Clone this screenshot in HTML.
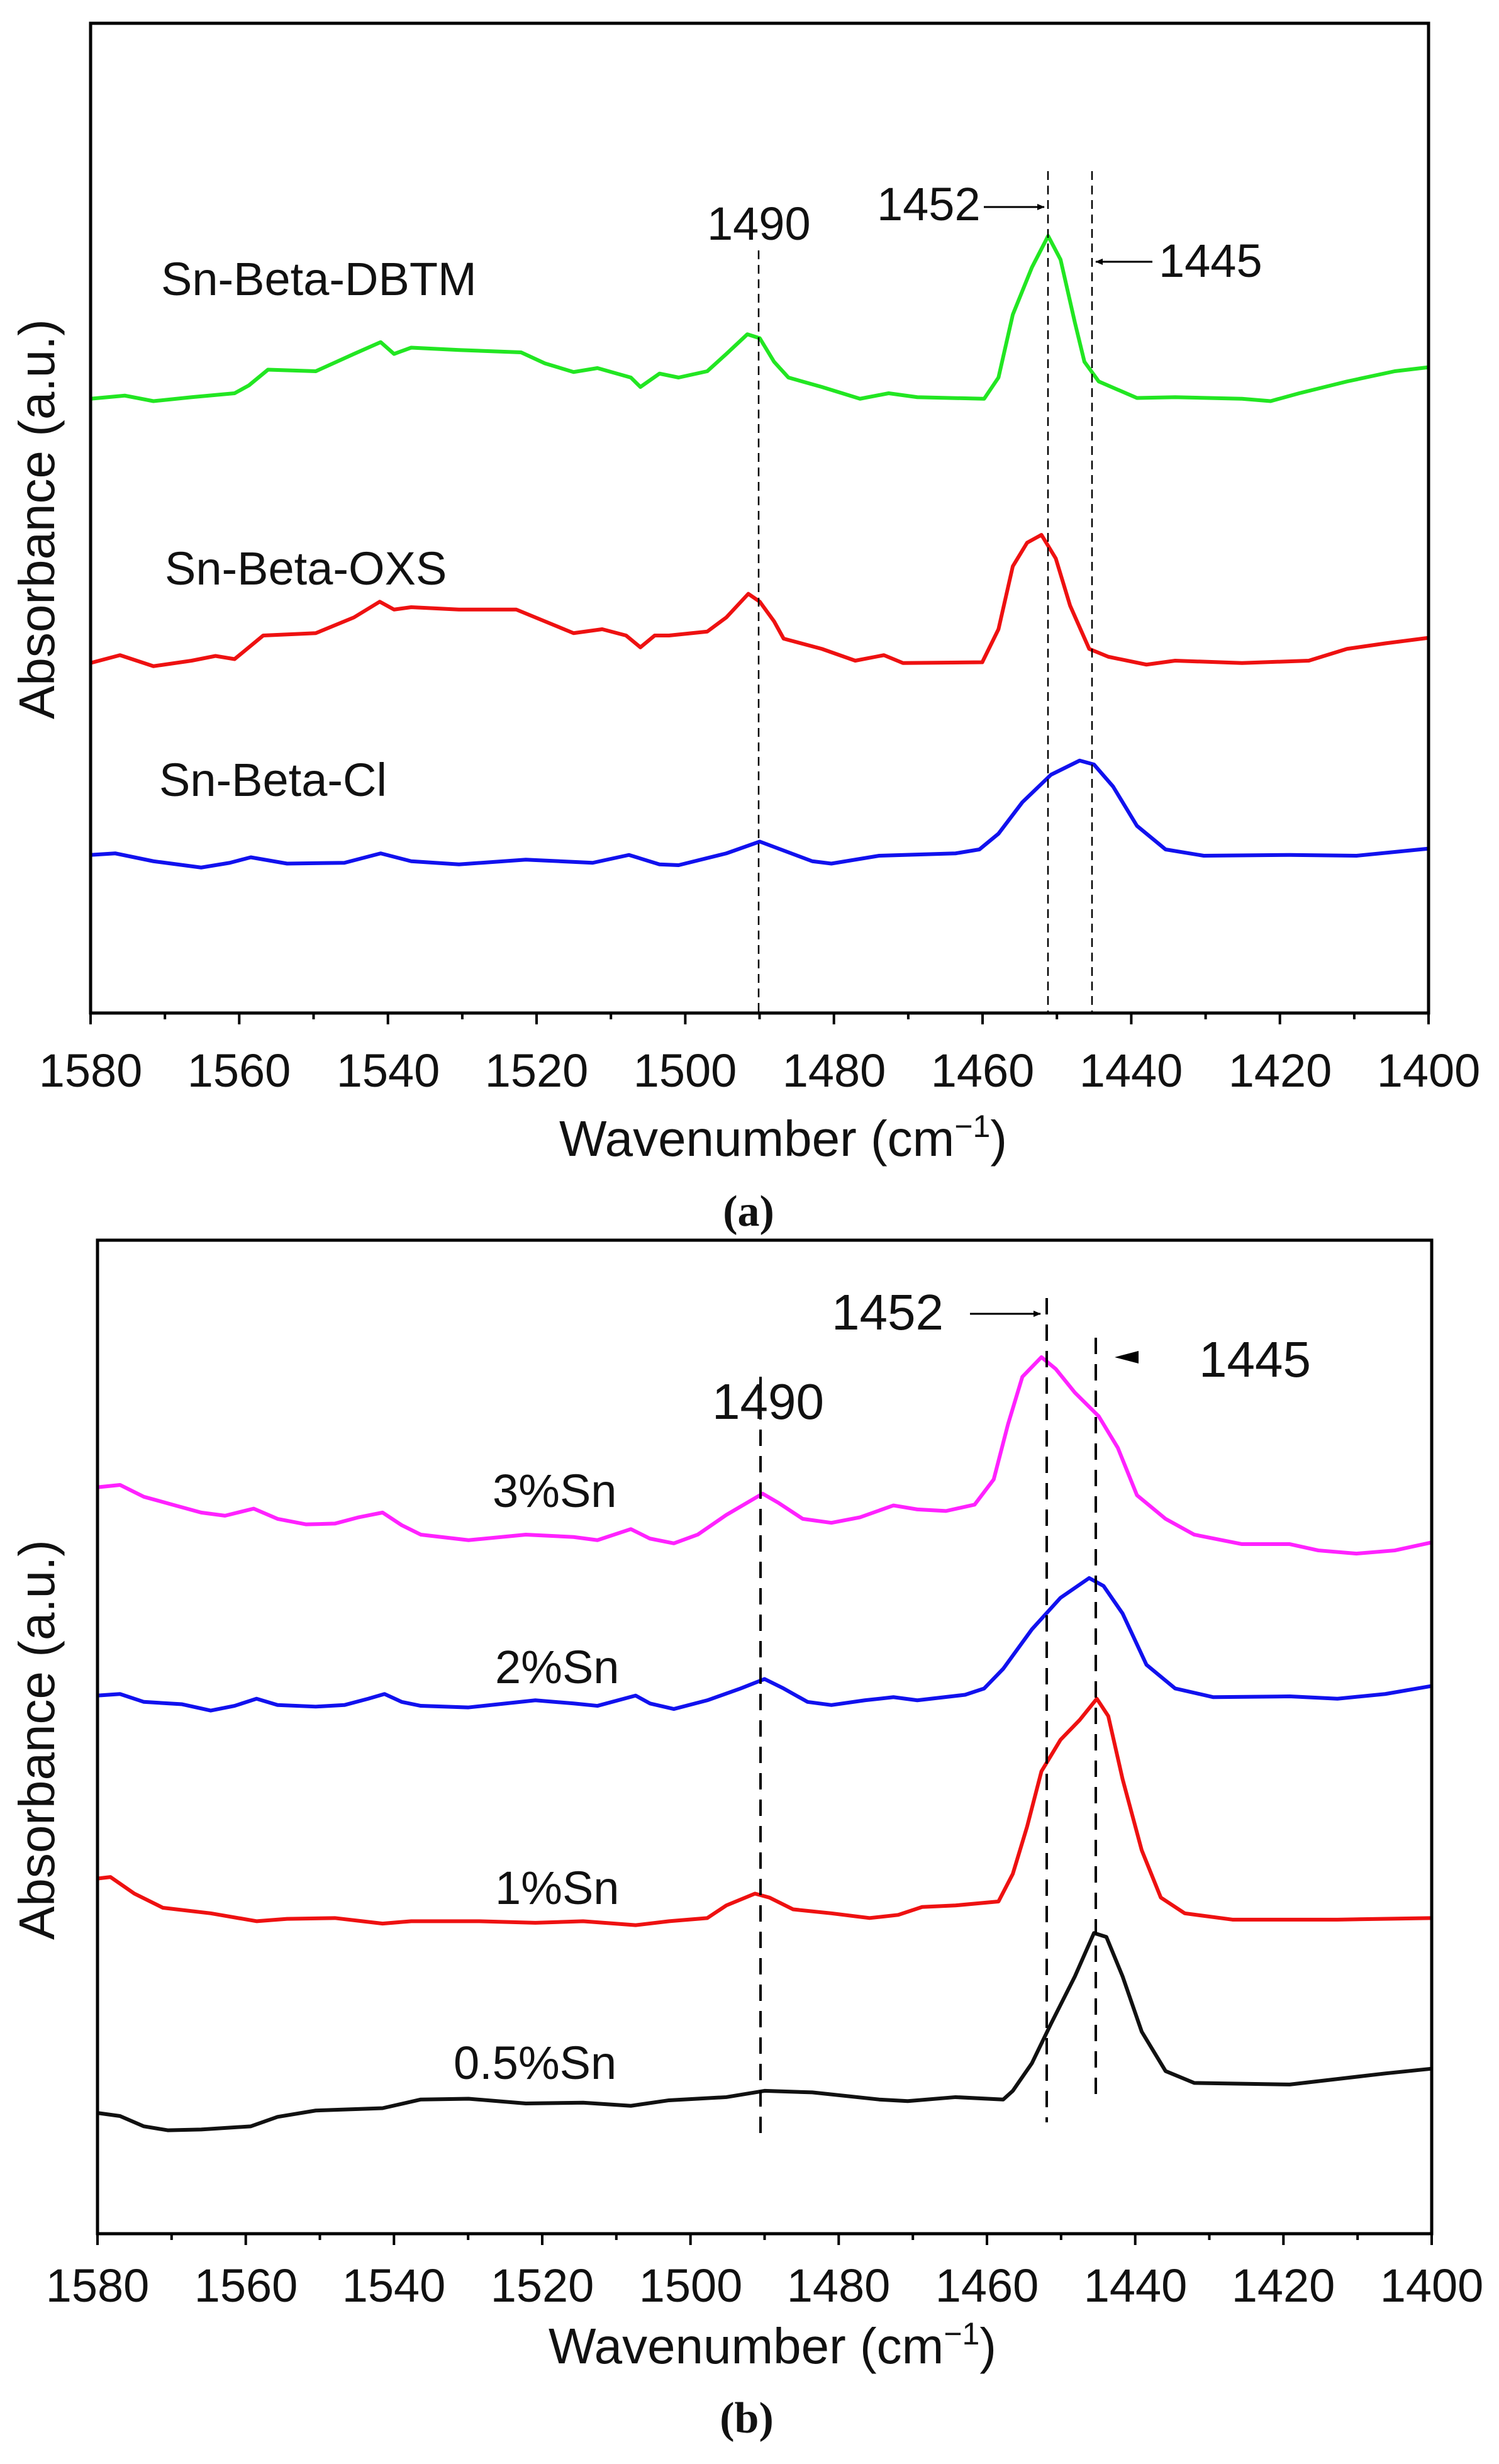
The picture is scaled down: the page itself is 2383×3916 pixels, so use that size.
<!DOCTYPE html>
<html><head><meta charset="utf-8"><style>
html,body{margin:0;padding:0;background:#fff;}
svg{display:block;}
text{font-family:"Liberation Sans",Arial,sans-serif;fill:#111;}
.t{font-size:74px;}
.s{font-family:"Liberation Serif",serif;font-size:70px;font-weight:bold;}
</style></head><body>
<svg width="2383" height="3916" viewBox="0 0 2383 3916" xmlns="http://www.w3.org/2000/svg">
<defs>
<marker id="ah" markerWidth="12" markerHeight="10" refX="11" refY="5" orient="auto" markerUnits="userSpaceOnUse"><path d="M0,0 L12,5 L0,10 z" fill="#000"/></marker>
</defs>
<!-- Panel a -->
<g transform="translate(1,0) scale(1.518,1.25)" fill="none" stroke-linejoin="round">
<polyline vector-effect="non-scaling-stroke" stroke="#22e622" stroke-width="6" points="94,507 130,503 160,510 200,505 245,500 260,490 280,470 330,472 370,450 398,435 412,450 430,442 480,445 545,448 570,462 600,473 625,468 660,480 670,492 690,475 710,480 740,472 760,450 782,425 795,430 810,460 825,480 860,492 900,507 930,500 960,505 1030,507 1045,480 1060,400 1080,340 1097,300 1110,330 1125,410 1135,460 1150,485 1190,506 1230,505 1300,507 1330,510 1360,500 1410,485 1460,472 1495,467"/>
<polyline vector-effect="non-scaling-stroke" stroke="#ee1111" stroke-width="6" points="94,843 125,833 160,847 200,840 225,834 245,838 275,808 330,805 370,785 397,765 412,775 430,772 480,775 540,775 570,790 600,805 630,800 655,808 670,823 685,808 700,808 740,803 760,785 783,755 795,765 810,790 820,812 860,825 895,840 925,833 945,843 1028,842 1045,800 1060,720 1075,690 1090,680 1105,710 1120,770 1140,825 1160,835 1200,845 1230,840 1300,843 1370,840 1410,825 1450,818 1495,811"/>
<polyline vector-effect="non-scaling-stroke" stroke="#1111ee" stroke-width="6" points="94,1087 120,1085 160,1095 210,1103 240,1097 262,1090 300,1098 360,1097 398,1085 430,1095 480,1099 550,1093 620,1097 658,1087 690,1099 710,1100 760,1085 795,1070 850,1095 870,1098 920,1088 1000,1085 1025,1080 1045,1060 1070,1020 1100,985 1130,967 1145,972 1165,1000 1190,1050 1220,1080 1260,1088 1350,1087 1420,1088 1495,1079"/>
</g>
<g stroke="#000" stroke-width="2.5" stroke-dasharray="14,9">
<line x1="1206" y1="398" x2="1206" y2="1610"/>
<line x1="1666" y1="272" x2="1666" y2="1610"/>
<line x1="1736" y1="272" x2="1736" y2="1610"/>
</g>
<rect x="144" y="37" width="2127" height="1573" fill="none" stroke="#000" stroke-width="5"/>
<g stroke="#000" stroke-width="4">
<line x1="144" y1="1610" x2="144" y2="1628"/><line x1="262.2" y1="1610" x2="262.2" y2="1620"/>
<line x1="380.3" y1="1610" x2="380.3" y2="1628"/><line x1="498.5" y1="1610" x2="498.5" y2="1620"/>
<line x1="616.7" y1="1610" x2="616.7" y2="1628"/><line x1="734.9" y1="1610" x2="734.9" y2="1620"/>
<line x1="853" y1="1610" x2="853" y2="1628"/><line x1="971.2" y1="1610" x2="971.2" y2="1620"/>
<line x1="1089.4" y1="1610" x2="1089.4" y2="1628"/><line x1="1207.5" y1="1610" x2="1207.5" y2="1620"/>
<line x1="1325.7" y1="1610" x2="1325.7" y2="1628"/><line x1="1443.9" y1="1610" x2="1443.9" y2="1620"/>
<line x1="1562" y1="1610" x2="1562" y2="1628"/><line x1="1680.2" y1="1610" x2="1680.2" y2="1620"/>
<line x1="1798.4" y1="1610" x2="1798.4" y2="1628"/><line x1="1916.6" y1="1610" x2="1916.6" y2="1620"/>
<line x1="2034.7" y1="1610" x2="2034.7" y2="1628"/><line x1="2152.9" y1="1610" x2="2152.9" y2="1620"/>
<line x1="2271" y1="1610" x2="2271" y2="1628"/>
</g>
<g class="t" text-anchor="middle">
<text x="144" y="1727">1580</text><text x="380" y="1727">1560</text><text x="617" y="1727">1540</text>
<text x="853" y="1727">1520</text><text x="1089" y="1727">1500</text><text x="1326" y="1727">1480</text>
<text x="1562" y="1727">1460</text><text x="1798" y="1727">1440</text><text x="2035" y="1727">1420</text>
<text x="2271" y="1727">1400</text>
</g>
<text class="t" x="1245" y="1837" text-anchor="middle" style="font-size:80px">Wavenumber (cm<tspan dy="-30" style="font-size:50px">−1</tspan><tspan dy="30">)</tspan></text>
<text class="s" x="1190" y="1948" text-anchor="middle">(a)</text>
<text class="t" transform="translate(86,825) rotate(-90)" text-anchor="middle" style="font-size:80px">Absorbance (a.u.)</text>
<text class="t" x="256" y="469">Sn-Beta-DBTM</text>
<text class="t" x="262" y="929">Sn-Beta-OXS</text>
<text class="t" x="253" y="1265">Sn-Beta-Cl</text>
<text class="t" x="1124" y="381">1490</text>
<text class="t" x="1394" y="350">1452</text>
<text class="t" x="1842" y="440">1445</text>
<line x1="1564" y1="329" x2="1660" y2="329" stroke="#000" stroke-width="3" marker-end="url(#ah)"/>
<line x1="1832" y1="416" x2="1742" y2="416" stroke="#000" stroke-width="3" marker-end="url(#ah)"/>

<!-- Panel b -->
<g transform="translate(1,1950) scale(1.518,1.2538)" fill="none" stroke-linejoin="round">
<polyline vector-effect="non-scaling-stroke" stroke="#ff22ff" stroke-width="6" points="101,330 125,327 150,342 180,352 210,362 235,366 265,357 290,370 320,377 350,376 375,368 400,362 420,378 440,390 490,397 550,390 600,393 625,397 660,383 680,395 705,401 730,390 760,365 798,338 815,350 840,370 870,375 900,368 935,353 960,358 990,360 1020,352 1040,320 1055,250 1070,190 1090,165 1105,180 1125,210 1150,240 1170,280 1190,340 1220,370 1250,390 1300,402 1350,402 1380,410 1420,414 1460,410 1498,400"/>
<polyline vector-effect="non-scaling-stroke" stroke="#1111ee" stroke-width="6" points="101,594 125,592 150,602 190,605 220,613 245,607 268,598 290,606 330,608 360,606 385,598 402,592 420,602 440,607 490,609 560,600 600,604 625,607 665,594 680,604 705,611 740,600 775,585 800,573 820,585 845,602 870,606 905,600 935,596 960,600 1010,593 1030,585 1050,560 1080,510 1110,470 1140,445 1155,455 1175,490 1200,555 1230,585 1270,596 1350,595 1400,598 1450,592 1498,582"/>
<polyline vector-effect="non-scaling-stroke" stroke="#ee1111" stroke-width="6" points="101,826 115,824 140,845 170,863 220,870 268,880 300,877 350,876 400,883 430,880 500,880 560,882 610,880 665,885 700,880 740,876 760,860 790,845 805,850 830,865 870,870 910,876 940,872 965,862 1000,860 1045,855 1060,820 1075,760 1090,690 1110,650 1130,625 1148,598 1160,620 1175,700 1195,790 1215,850 1240,870 1290,878 1400,878 1498,876"/>
<polyline vector-effect="non-scaling-stroke" stroke="#111" stroke-width="6" points="101,1123 125,1127 150,1140 175,1145 210,1144 262,1140 290,1128 330,1120 400,1117 440,1106 490,1105 550,1111 610,1110 660,1114 700,1107 760,1103 800,1095 850,1097 920,1106 950,1108 1000,1103 1050,1106 1060,1095 1080,1060 1100,1010 1125,950 1145,895 1158,900 1175,950 1195,1020 1220,1070 1250,1085 1350,1087 1400,1080 1450,1073 1498,1067"/>
</g>
<g stroke="#000" stroke-width="4" stroke-dasharray="26,16">
<line x1="1209" y1="2188" x2="1209" y2="3398"/>
<line x1="1664" y1="2063" x2="1664" y2="3373"/>
<line x1="1742" y1="2126" x2="1742" y2="3339"/>
</g>
<rect x="155" y="1971" width="2121" height="1579" fill="none" stroke="#000" stroke-width="5"/>
<g stroke="#000" stroke-width="4">
<line x1="155" y1="3550" x2="155" y2="3568"/><line x1="272.8" y1="3550" x2="272.8" y2="3560"/>
<line x1="390.7" y1="3550" x2="390.7" y2="3568"/><line x1="508.5" y1="3550" x2="508.5" y2="3560"/>
<line x1="626.3" y1="3550" x2="626.3" y2="3568"/><line x1="744.2" y1="3550" x2="744.2" y2="3560"/>
<line x1="862" y1="3550" x2="862" y2="3568"/><line x1="979.8" y1="3550" x2="979.8" y2="3560"/>
<line x1="1097.7" y1="3550" x2="1097.7" y2="3568"/><line x1="1215.5" y1="3550" x2="1215.5" y2="3560"/>
<line x1="1333.3" y1="3550" x2="1333.3" y2="3568"/><line x1="1451.2" y1="3550" x2="1451.2" y2="3560"/>
<line x1="1569" y1="3550" x2="1569" y2="3568"/><line x1="1686.8" y1="3550" x2="1686.8" y2="3560"/>
<line x1="1804.7" y1="3550" x2="1804.7" y2="3568"/><line x1="1922.5" y1="3550" x2="1922.5" y2="3560"/>
<line x1="2040.3" y1="3550" x2="2040.3" y2="3568"/><line x1="2158.2" y1="3550" x2="2158.2" y2="3560"/>
<line x1="2276" y1="3550" x2="2276" y2="3568"/>
</g>
<g class="t" text-anchor="middle">
<text x="155" y="3658">1580</text><text x="391" y="3658">1560</text><text x="626" y="3658">1540</text>
<text x="862" y="3658">1520</text><text x="1098" y="3658">1500</text><text x="1333" y="3658">1480</text>
<text x="1569" y="3658">1460</text><text x="1805" y="3658">1440</text><text x="2040" y="3658">1420</text>
<text x="2276" y="3658">1400</text>
</g>
<text class="t" x="1228" y="3756" text-anchor="middle" style="font-size:80px">Wavenumber (cm<tspan dy="-30" style="font-size:50px">−1</tspan><tspan dy="30">)</tspan></text>
<text class="s" x="1187" y="3866" text-anchor="middle">(b)</text>
<text class="t" transform="translate(86,2765) rotate(-90)" text-anchor="middle" style="font-size:80px">Absorbance (a.u.)</text>
<text class="t" x="1322" y="2113" style="font-size:80px">1452</text>
<text class="t" x="1906" y="2188" style="font-size:80px">1445</text>
<text class="t" x="1132" y="2255" style="font-size:80px">1490</text>
<line x1="1542" y1="2088" x2="1654" y2="2088" stroke="#000" stroke-width="3" marker-end="url(#ah)"/>
<path d="M1772,2157 L1810,2147 L1810,2167 z" fill="#000"/>
<text class="t" x="783" y="2395">3%Sn</text>
<text class="t" x="787" y="2675">2%Sn</text>
<text class="t" x="787" y="3026">1%Sn</text>
<text class="t" x="721" y="3304">0.5%Sn</text>
</svg>
</body></html>
